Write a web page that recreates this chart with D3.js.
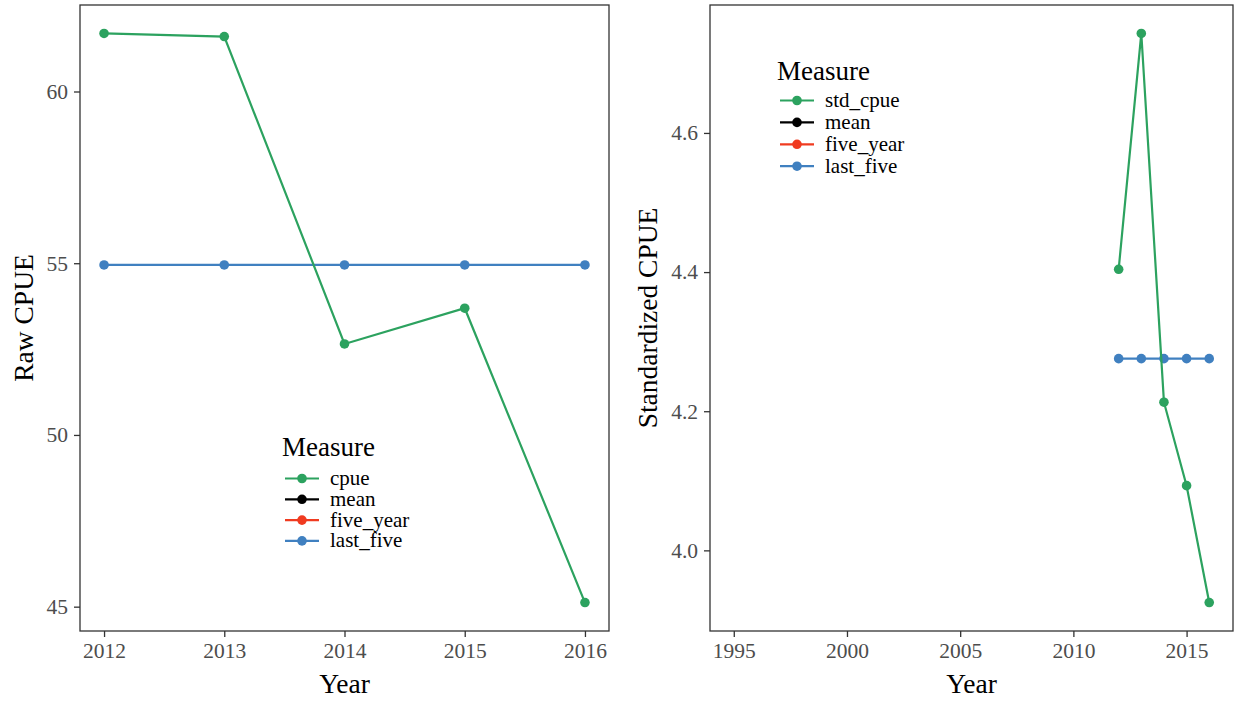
<!DOCTYPE html>
<html>
<head>
<meta charset="utf-8">
<script src="https://cdn.jsdelivr.net/npm/d3@7"></script>
<style>
  html, body { margin: 0; padding: 0; background: #fff; }
  svg { display: block; font-family: "Liberation Serif", "Times New Roman", serif; }
</style>
</head>
<body>
<svg id="chart" width="1236" height="702"></svg>
<script>
// ---- Data ----
const years = [2012, 2013, 2014, 2015, 2016];
const cpue = [61.69, 61.60, 52.65, 53.69, 45.12];
const rawLastFive = [54.95, 54.95, 54.95, 54.95, 54.95];

const stdCpue = [4.404, 4.743, 4.213, 4.093, 3.925];
const stdLastFive = [4.2756, 4.2756, 4.2756, 4.2756, 4.2756];

const leftXTicks = [2012, 2013, 2014, 2015, 2016];
const leftYTicks = [45, 50, 55, 60];
const rightXTicks = [1995, 2000, 2005, 2010, 2015];
const rightYTicks = [4.0, 4.2, 4.4, 4.6];
const rightYearSpan = [1995, 2016];

const leftLegend = ["cpue", "mean", "five_year", "last_five"];
const rightLegend = ["std_cpue", "mean", "five_year", "last_five"];
const colors = ["#2ca25f", "#000000", "#f03b20", "#4080c0"];

// ---- Setup ----
const svg = d3.select("#chart");
const tickFont = 21.5, titleFont = 27.5, legTitleFont = 27, legFont = 21;
const borderCol = "#333333";

function panel(cfg) {
  const g = svg.append("g");
  const x = d3.scaleLinear().domain(cfg.xDomain).range([cfg.x0, cfg.x1]);
  const y = d3.scaleLinear().domain(cfg.yDomain).range([cfg.y1, cfg.y0]);

  // series: last_five (blue) first, main series (green) on top
  cfg.series.forEach(s => {
    const pts = years.map((yr, k) => [yr, s.vals[k]]);
    g.append("path")
      .datum(pts)
      .attr("fill", "none")
      .attr("stroke", colors[s.c])
      .attr("stroke-width", 2.2)
      .attr("d", d3.line().x(d => x(d[0])).y(d => y(d[1])));
    g.selectAll(null).data(pts).enter().append("circle")
      .attr("cx", d => x(d[0])).attr("cy", d => y(d[1]))
      .attr("r", 4.8).attr("fill", colors[s.c]);
  });

  // border
  g.append("rect")
    .attr("x", cfg.x0).attr("y", cfg.y0)
    .attr("width", cfg.x1 - cfg.x0).attr("height", cfg.y1 - cfg.y0)
    .attr("fill", "none").attr("stroke", borderCol).attr("stroke-width", 1.3);

  // x axis
  const xa = g.append("g").attr("transform", `translate(0,${cfg.y1})`)
    .call(d3.axisBottom(x).tickValues(cfg.xTicks).tickFormat(d3.format("d"))
      .tickSize(6).tickPadding(6));
  xa.select(".domain").remove();
  xa.selectAll(".tick line").attr("stroke", borderCol).attr("stroke-width", 1.3);
  xa.selectAll(".tick text").attr("fill", "#4d4d4d")
    .attr("font-size", tickFont).attr("font-family", "Liberation Serif");

  // y axis
  const ya = g.append("g").attr("transform", `translate(${cfg.x0},0)`)
    .call(d3.axisLeft(y).tickValues(cfg.yTicks).tickFormat(cfg.yFmt)
      .tickSize(6).tickPadding(6));
  ya.select(".domain").remove();
  ya.selectAll(".tick line").attr("stroke", borderCol).attr("stroke-width", 1.3);
  ya.selectAll(".tick text").attr("fill", "#4d4d4d")
    .attr("font-size", tickFont).attr("font-family", "Liberation Serif");

  // axis titles
  g.append("text").attr("x", (cfg.x0 + cfg.x1) / 2).attr("y", 693)
    .attr("text-anchor", "middle").attr("font-size", titleFont).attr("fill", "#000")
    .text("Year");
  g.append("text")
    .attr("transform", `translate(${cfg.yTitleX},${(cfg.y0 + cfg.y1) / 2}) rotate(-90)`)
    .attr("text-anchor", "middle").attr("font-size", titleFont).attr("fill", "#000")
    .text(cfg.yTitle);

  // legend
  const lg = g.append("g");
  lg.append("text").attr("x", cfg.legX).attr("y", cfg.legTitleY)
    .attr("font-size", legTitleFont).attr("fill", "#000").text("Measure");
  cfg.legLabels.forEach((lab, i) => {
    const cy = cfg.legY0 + i * cfg.legStep;
    lg.append("line").attr("x1", cfg.legX + 3).attr("x2", cfg.legX + 37)
      .attr("y1", cy).attr("y2", cy).attr("stroke", colors[i]).attr("stroke-width", 2.2);
    lg.append("circle").attr("cx", cfg.legX + 20).attr("cy", cy).attr("r", 4.8)
      .attr("fill", colors[i]);
    lg.append("text").attr("x", cfg.legX + 48).attr("y", cy + 6.5)
      .attr("font-size", legFont).attr("fill", "#000").text(lab);
  });
}

// left panel
const lMin = d3.min(cpue), lMax = d3.max(cpue), lPad = (lMax - lMin) * 0.05;
panel({
  x0: 80, x1: 609, y0: 5, y1: 631,
  xDomain: [2012 - 0.2, 2016 + 0.2],
  yDomain: [lMin - lPad, lMax + lPad],
  xTicks: leftXTicks, yTicks: leftYTicks, yFmt: d3.format("d"),
  series: [{vals: rawLastFive, c: 3}, {vals: cpue, c: 0}],
  yTitle: "Raw CPUE", yTitleX: 33,
  legX: 282, legTitleY: 456, legY0: 478.5, legStep: 20.8, legLabels: leftLegend
});

// right panel
const rMin = d3.min(stdCpue), rMax = d3.max(stdCpue), rPad = (rMax - rMin) * 0.05;
const xSpan = rightYearSpan[1] - rightYearSpan[0];
panel({
  x0: 710, x1: 1233, y0: 5, y1: 631,
  xDomain: [rightYearSpan[0] - xSpan * 0.05, rightYearSpan[1] + xSpan * 0.05],
  yDomain: [rMin - rPad, rMax + rPad],
  xTicks: rightXTicks, yTicks: rightYTicks, yFmt: d3.format(".1f"),
  series: [{vals: stdLastFive, c: 3}, {vals: stdCpue, c: 0}],
  yTitle: "Standardized CPUE", yTitleX: 657,
  legX: 777, legTitleY: 80, legY0: 100.5, legStep: 21.9, legLabels: rightLegend
});
</script>
</body>
</html>
